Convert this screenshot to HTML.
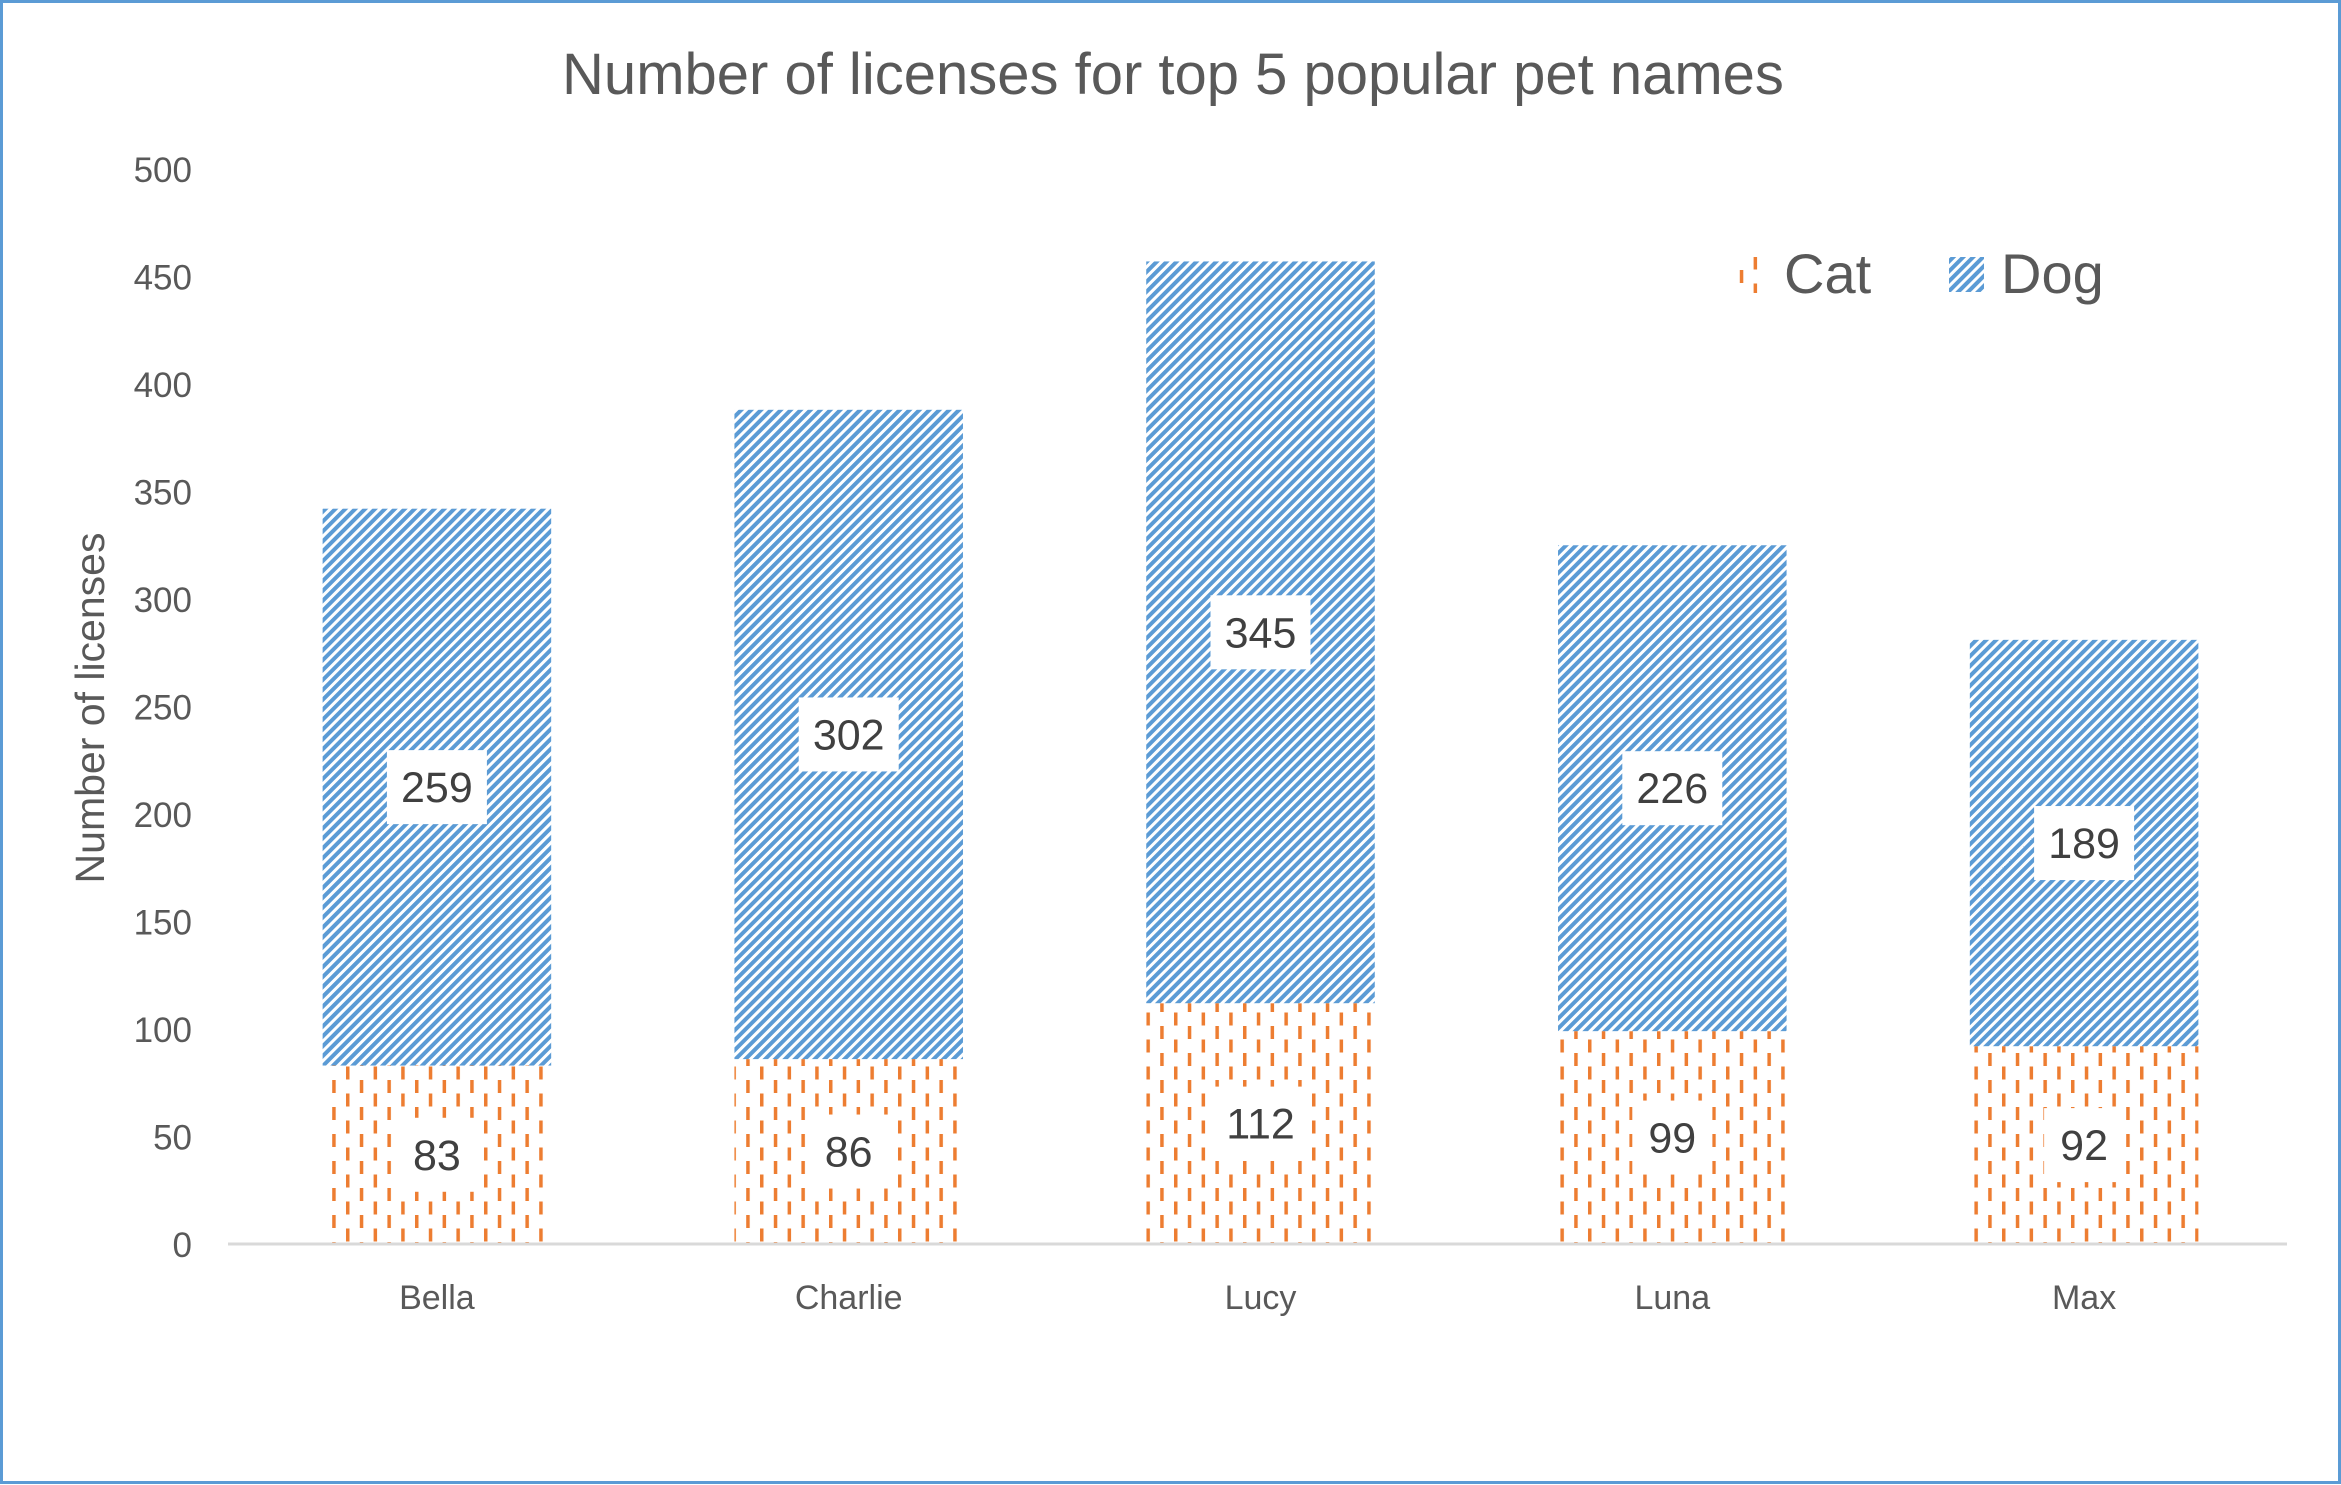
<!DOCTYPE html>
<html><head><meta charset="utf-8"><style>
html,body{margin:0;padding:0;background:#fff}
svg{display:block;font-family:"Liberation Sans",sans-serif}
</style></head><body>
<svg id="chart" width="2341" height="1485" viewBox="0 0 2341 1485">
<defs>
<pattern id="catPat" patternUnits="userSpaceOnUse" width="27.6" height="27" x="0" y="0">
<rect x="1" y="0" width="3.5" height="13" fill="#ED7D31"/>
<rect x="14.8" y="13.5" width="3.5" height="13" fill="#ED7D31"/>
</pattern>
<pattern id="dogPat" patternUnits="userSpaceOnUse" width="7" height="7" patternTransform="rotate(45)">
<rect width="7" height="7" fill="#fff"/>
<rect x="0" y="0" width="4" height="7" fill="#5B9BD5"/>
</pattern>
</defs>
<rect x="1.5" y="1.5" width="2338" height="1481" fill="#fff" stroke="#5B9BD5" stroke-width="3"/>
<text x="1173" y="94" text-anchor="middle" font-size="58" fill="#595959">Number of licenses for top 5 popular pet names</text>
<text transform="translate(104,708) rotate(-90)" text-anchor="middle" font-size="41" fill="#595959">Number of licenses</text>
<g id="yticks"></g>
<g id="bars"></g>
<g id="labels"></g>
<line x1="228" y1="1244" x2="2287" y2="1244" stroke="#D9D9D9" stroke-width="3"/>
<g>
<g>
<rect x="1732" y="257" width="32" height="36" fill="url(#catPat)"/>
<text x="1784" y="293" font-size="56" fill="#595959">Cat</text>
</g>
<g>
<rect x="1949" y="257" width="35" height="35" fill="url(#dogPat)"/>
<text x="2001" y="293" font-size="56" fill="#595959">Dog</text>
</g>
</g>
</svg>
<script>
const categories = ["Bella","Charlie","Lucy","Luna","Max"];
const catValues = [83,86,112,99,92];
const dogValues = [259,302,345,226,189];
const yTicks = [0,50,100,150,200,250,300,350,400,450,500];

const NS = "http://www.w3.org/2000/svg";
const plotLeft = 231, plotRight = 2290, y0 = 1244, y500 = 169;
function yScale(v){ return y0 - (v/500)*(y0 - y500); }
const band = (plotRight - plotLeft)/categories.length;
function xCenter(i){ return plotLeft + band*(i+0.5); }
const barW = band*0.555;

function mk(tag, attrs, parent){
  const e = document.createElementNS(NS, tag);
  for (const k in attrs) e.setAttribute(k, attrs[k]);
  parent.appendChild(e);
  return e;
}
const yt = document.getElementById('yticks');
yTicks.forEach(v=>{
  const t = mk('text',{x:192,y:yScale(v)+13,'text-anchor':'end','font-size':35,fill:'#595959'},yt);
  
  
  t.textContent = v;
});
const bars = document.getElementById('bars');
const labels = document.getElementById('labels');
function label(cx, cy, val, w){
  const g = mk('g',{},labels);
  
  
  mk('rect',{x:cx-w/2,y:cy-37,width:w,height:74,fill:'#fff'},g);
  const t = mk('text',{x:cx,y:cy+15,'text-anchor':'middle','font-size':43,fill:'#404040'},g);
  t.textContent = val;
}
categories.forEach((c,i)=>{
  const cx = xCenter(i);
  const yc = yScale(catValues[i]);
  const yd = yScale(catValues[i]+dogValues[i]);
  const rc = mk('rect',{x:cx-barW/2,y:yc,width:barW,height:y0-yc,fill:'url(#catPat)'},bars);
  
  
  const rd = mk('rect',{x:cx-barW/2,y:yd,width:barW,height:yc-yd,fill:'url(#dogPat)'},bars);
  
  
  const ct = mk('text',{x:cx,y:1309,'text-anchor':'middle','font-size':34,fill:'#595959'},bars);
  
  
  ct.textContent = c;
  label(cx,(y0+yc)/2,catValues[i], String(catValues[i]).length>2?100:80);
  label(cx,(yc+yd)/2,dogValues[i],100);
});
</script>
</body></html>
